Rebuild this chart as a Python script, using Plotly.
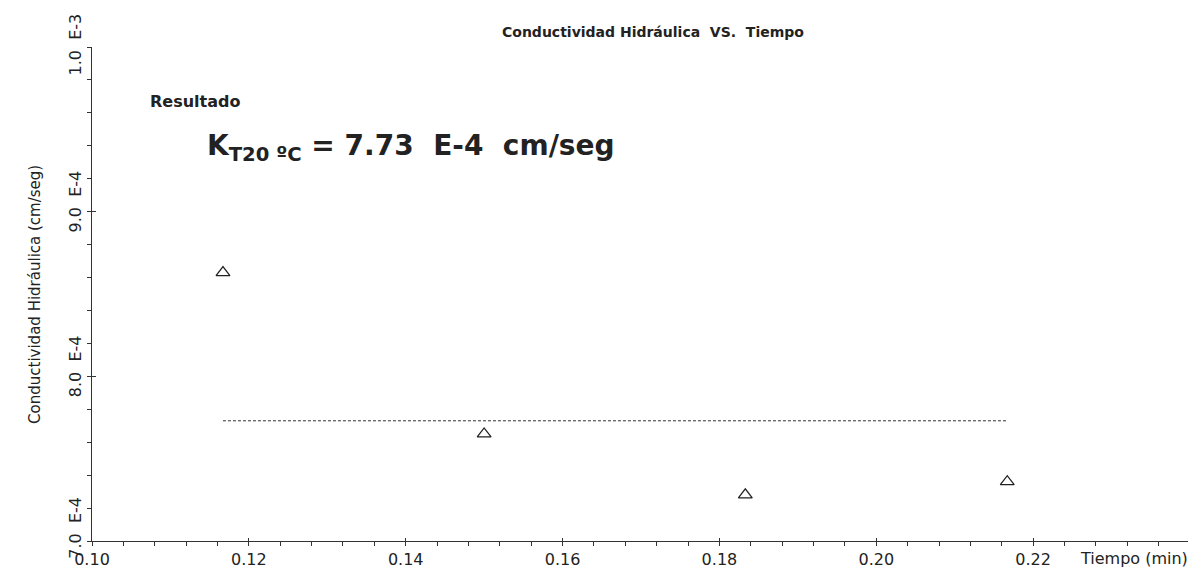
import plotly.graph_objects as go

# datos
tiempo = [0.1167, 0.1500, 0.1833, 0.2167]          # min
k_hidr = [8.63e-4, 7.65e-4, 7.28e-4, 7.36e-4]      # cm/seg
k_prom = 7.73e-4

x_ticks = [0.10, 0.12, 0.14, 0.16, 0.18, 0.20, 0.22, 0.24]
x_labels = ['0.10', '0.12', '0.14', '0.16', '0.18', '0.20', '0.22', '']
y_ticks = [7.0e-4, 8.0e-4, 9.0e-4, 1.0e-3]
y_labels = ['   7.0  E-4', '   8.0  E-4', '   9.0  E-4', '1.0  E-3']

FONT = 'DejaVu Sans'
INK = '#222222'
y_range = [7.0e-4, 1.0e-3]

fig = go.Figure()

fig.add_trace(go.Scatter(
    x=tiempo, y=k_hidr, mode='markers',
    marker=dict(symbol='triangle-up-open', size=12, color=INK, line=dict(width=1.3)),
    showlegend=False))

fig.add_trace(go.Scatter(
    x=[tiempo[0], tiempo[-1]], y=[k_prom, k_prom], mode='lines',
    line=dict(color='#333333', width=1, dash='3px,2px'),
    showlegend=False))

# eje auxiliar para que las marcas principales crucen la linea del eje
fig.add_trace(go.Scatter(x=[], y=[], xaxis='x2', yaxis='y2', showlegend=False))

axis_line = dict(showline=True, linecolor='#333333', linewidth=1,
                 showgrid=False, zeroline=False)

# plotly oculta la etiqueta de la esquina, se pone aparte como anotacion
y_ticktext = [''] + y_labels[1:]

# la pagina deja 8px de margen en el body, por eso 1188x567
fig.update_layout(
    width=1188, height=567,
    margin=dict(l=84, r=6, t=37, b=28),
    paper_bgcolor='white', plot_bgcolor='white',
    font=dict(family=FONT, size=16, color=INK),
    xaxis=dict(range=[0.10, 0.24], tickvals=x_ticks, ticktext=x_labels,
               ticks='outside', ticklen=4, tickcolor='#333333',
               minor=dict(dtick=0.004, ticks='outside', ticklen=4, tickcolor='#333333'),
               tickfont=dict(size=16), **axis_line),
    yaxis=dict(range=y_range, tickvals=y_ticks, ticktext=y_ticktext,
               tickangle=-90, ticks='outside', ticklen=4, tickcolor='#333333',
               minor=dict(dtick=2e-5, ticks='outside', ticklen=4, tickcolor='#333333'),
               tickfont=dict(size=16), **axis_line),
    xaxis2=dict(overlaying='x', anchor='y2', range=[0.10, 0.24], tickvals=x_ticks,
                showticklabels=False, ticks='inside', ticklen=3, tickcolor='#333333',
                showline=False, showgrid=False, zeroline=False),
    yaxis2=dict(overlaying='y', anchor='x2', range=y_range, tickvals=y_ticks,
                showticklabels=False, ticks='inside', ticklen=4, tickcolor='#333333',
                showline=False, showgrid=False, zeroline=False),
)

fig.add_annotation(text=y_labels[0], xref='paper', yref='y',
                   x=-0.0155, y=y_ticks[0], yshift=6, textangle=-90,
                   xanchor='center', yanchor='middle', showarrow=False,
                   font=dict(size=16))

fig.add_annotation(text='<b>Conductividad Hidráulica  VS.  Tiempo</b>',
                   xref='paper', yref='paper', x=0.372, y=1.030,
                   xanchor='left', yanchor='middle', showarrow=False,
                   font=dict(size=14))
fig.add_annotation(text='<b>Resultado</b>',
                   xref='paper', yref='paper', x=0.051, y=0.889,
                   xanchor='left', yanchor='middle', showarrow=False,
                   font=dict(size=16))
fig.add_annotation(text='<b>K<sub>T20 ºC</sub> = 7.73  E-4  cm/seg</b>',
                   xref='paper', yref='paper', x=0.103, y=0.796,
                   xanchor='left', yanchor='middle', showarrow=False,
                   font=dict(size=28))
fig.add_annotation(text='Conductividad Hidráulica (cm/seg)',
                   xref='paper', yref='paper', x=-0.052, y=0.5, textangle=-90,
                   xanchor='center', yanchor='middle', showarrow=False,
                   font=dict(size=15))
fig.add_annotation(text='Tiempo (min)',
                   xref='paper', yref='paper', x=1.0, y=-0.012,
                   xanchor='right', yanchor='top', showarrow=False,
                   font=dict(size=16))

fig.write_html('out.html')
